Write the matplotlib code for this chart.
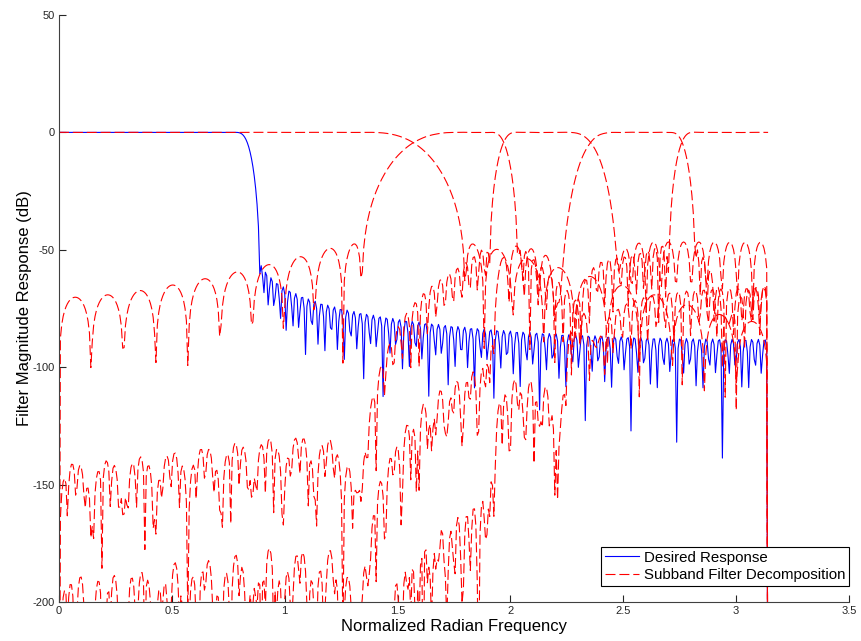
import numpy as np
import matplotlib.pyplot as plt

plt.rcParams['font.family'] = ['Liberation Sans', 'DejaVu Sans']
plt.rcParams['axes.unicode_minus'] = False

# frequency grid: rfft of n_fft points -> 0 .. pi inclusive
n_fft = 1024

# desired lowpass response (cutoff, length, kaiser beta)
desired_cutoff = 0.84
desired_taps = 218
desired_beta = 5.3

# tree of two-band splits that makes up the subband decomposition
split_freqs = [1.57, 1.97, 2.355, 2.76]
split_overlap = [0.05, 0.015, 0.025, 0.015]
split_taps = [44, 166, 92, 180]
split_atten = [36, 38, 38, 38]


def chebwin(n, at):
    order = n - 1
    beta = np.cosh(np.arccosh(10 ** (at / 20.0)) / order)
    x = beta * np.cos(np.pi * np.arange(n) / n)
    p = np.zeros(n)
    hi, lo, mid = x > 1, x < -1, np.abs(x) <= 1
    p[hi] = np.cosh(order * np.arccosh(x[hi]))
    p[lo] = (2 * (n % 2) - 1) * np.cosh(order * np.arccosh(-x[lo]))
    p[mid] = np.cos(order * np.arccos(x[mid]))
    if n % 2:
        win = np.real(np.fft.fft(p))
        half = (n + 1) // 2
        win = win[:half]
        win = np.concatenate((win[half - 1:0:-1], win))
    else:
        p = p * np.exp(1j * np.pi / n * np.arange(n))
        win = np.real(np.fft.fft(p))
        half = n // 2 + 1
        win = np.concatenate((win[half - 1:0:-1], win[1:half]))
    return win / win.max()


def lowpass(wc, n, win):
    m = np.arange(n) - (n - 1) / 2
    return wc / np.pi * np.sinc(wc / np.pi * m) * win


def highpass(wc, n, win):
    return (-1.0) ** np.arange(n) * lowpass(np.pi - wc, n, win)


def response(h):
    return np.abs(np.fft.rfft(h, n_fft))


def to_db(mag):
    return 20 * np.log10(np.maximum(mag, 1e-15))


w = np.linspace(0, np.pi, n_fft // 2 + 1)
desired_db = to_db(response(lowpass(desired_cutoff, desired_taps,
                                    np.kaiser(desired_taps, desired_beta))))

lp, hp = [], []
for f, ov, n, at in zip(split_freqs, split_overlap, split_taps, split_atten):
    win = chebwin(n, at)
    lp.append(response(lowpass(f + ov / 2, n, win)))
    hp.append(response(highpass(f - ov / 2, n, win)))

subbands = []
upper = np.ones_like(w)
for k in range(len(split_freqs)):
    subbands.append(upper * lp[k])
    upper = upper * hp[k]
subbands.append(upper)

fig = plt.figure(figsize=(8.61, 6.41), dpi=100)
ax = fig.add_axes([59 / 861, 39 / 641, 790 / 861, 587 / 641])

ax.plot(w, desired_db, color='b', lw=0.8, label='Desired Response')
for i, sb in enumerate(subbands):
    ax.plot(w, to_db(sb), color='r', lw=0.8, linestyle=(0, (9, 3.5)),
            label='Subband Filter Decomposition' if i == 0 else None)

ax.set_xlim(0, 3.5)
ax.set_ylim(-200, 50)
ax.set_xticks(np.arange(0, 3.51, 0.5))
ax.set_xticklabels(['0', '0.5', '1', '1.5', '2', '2.5', '3', '3.5'])
ax.set_yticks(np.arange(-200, 51, 50))
ax.spines['top'].set_visible(False)
ax.spines['right'].set_visible(False)
for s in ('left', 'bottom'):
    ax.spines[s].set_color('#404040')
    ax.spines[s].set_linewidth(0.8)
ax.tick_params(direction='in', length=5, width=0.8, labelsize=8, colors='#262626', pad=3)

ax.set_xlabel('Normalized Radian Frequency', fontsize=12, labelpad=2)
ax.set_ylabel('Filter Magnitude Response (dB)', fontsize=12, labelpad=0.5)

leg = ax.legend(loc='lower right', bbox_to_anchor=(1.0, 0.027), borderaxespad=0,
                fontsize=10.8, fancybox=False, edgecolor='black', framealpha=1,
                handlelength=2.3, handletextpad=0.3, labelspacing=0.25, borderpad=0.25)
leg.get_frame().set_linewidth(0.8)

fig.savefig('out.png', dpi=100)
